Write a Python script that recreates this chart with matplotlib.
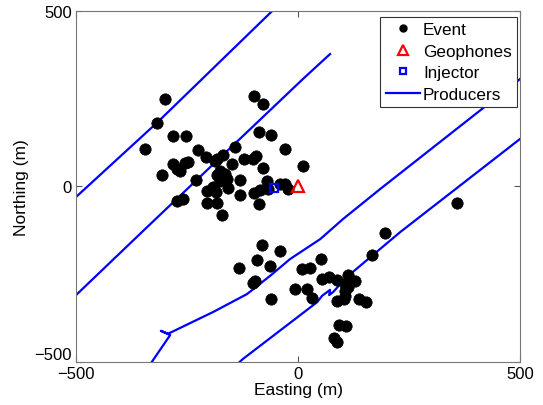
import matplotlib
matplotlib.use("Agg")
import matplotlib.pyplot as plt
from matplotlib.lines import Line2D

plt.rcParams['font.family'] = ['Liberation Sans', 'DejaVu Sans']

# Microseismic event locations (m)
event_easting = [
    -299.5, -316.9, -344.1, -281.5, -252.9, -226.4, -206.5, -188.1, -168.2, -141.9,
    -120.9, -94.6, -99.1, -80.0, -87.8, -60.8, -28.6, 10.1, -78.2, -282.7,
    -273.2, -265.8, -255.2, -247.1, -307.0, -230.4, -148.2, -175.7, -164.4, -183.1,
    -175.7, -160.6, -130.6, -157.0, -192.1, -206.1, -184.7, -205.6, -182.4, -172.3,
    -131.8, -100.2, -86.7, -89.0, -70.5, -40.5, -29.3, -22.5, -66.9, -273.2,
    -258.3, -101.4, -182.4,
    -80.4, -41.7, -93.0, -132.9, -63.1, -96.8, -100.7, -60.8, 51.8, 8.3,
    25.9, 53.4, 69.8, 88.5, 113.3, 128.4, 105.9, 113.3, -7.4, 19.6,
    32.2, 88.5, 104.3, 105.9, 137.4, 152.5, 93.0, 107.4, 81.8, 88.5,
    166.0, 195.9, 358.8, 105.9,
]
event_northing = [
    248.3, 182.1, 107.0, 142.7, 142.7, 105.0, 82.8, 72.8, 89.0, 112.7,
    79.3, 87.0, 258.3, 235.4, 155.5, 147.8, 107.9, 59.4, 53.7, 62.8,
    50.8, 42.8, 67.1, 69.1, 34.2, 18.5, 62.8, 43.4, 35.7, 33.7,
    16.6, 21.4, 19.4, -4.9, -2.3, -13.7, -17.1, -46.2, -45.7, -81.3,
    -23.7, -19.4, -10.0, -50.8, 15.7, 7.1, 5.7, -7.1, -7.1, -40.5,
    -35.7, 78.5, 77.1,
    -167.0, -184.9, -209.8, -232.6, -227.7, -268.8, -276.8, -321.1, -206.9, -235.4,
    -232.6, -264.0, -259.1, -266.0, -251.7, -268.8, -278.3, -287.7, -292.5, -292.5,
    -318.2, -327.6, -321.1, -311.6, -321.1, -328.8, -395.3, -397.3, -432.4, -442.9,
    -194.6, -132.7, -47.9, -297.4,
]

geophone_easting = [0]
geophone_northing = [0]
injector_easting = [-55]
injector_northing = [-4]

# Producer well traces
prod1_e = [-500, -316, -59]
prod1_n = [-30, 184, 500]
prod2_e = [-500, -340, 11, 72]
prod2_n = [-310, -116, 307, 378]
prod3_e = [-329, -288, -309, -293, -284, -191, -115, -63, -18, 50, 101, 185, 500]
prod3_n = [-500, -424, -412, -420, -415, -358, -307, -255, -207, -150, -93, -7, 307]
prod4_e = [-131, -124, 43, 54, 72, 70, 79, 110, 230, 500]
prod4_n = [-500, -492, -330, -312, -295, -310, -301, -258, -130, 136]

fig = plt.figure(figsize=(5.43, 4.06), dpi=100)
ax = fig.add_axes([0.140, 0.1067, 0.818, 0.863])

for e, n in [(prod1_e, prod1_n), (prod2_e, prod2_n), (prod3_e, prod3_n), (prod4_e, prod4_n)]:
    ax.plot(e, n, color='#0000ff', lw=1.6, zorder=2)

ax.plot(event_easting, event_northing, 'o', color='black', ms=8.2, mew=0.5, zorder=3)
ax.plot(geophone_easting, geophone_northing, '^', mfc='none', mec='red', mew=1.6, ms=8, zorder=4)
ax.plot(injector_easting, injector_northing, 's', mfc='none', mec='#0000ff', mew=1.6, ms=6, zorder=4)

ax.set_xlim(-500, 500)
ax.set_ylim(-500, 500)
ax.set_xticks([-500, 0, 500])
ax.set_yticks([-500, 0, 500])
ax.tick_params(direction='in', top=True, right=True, labelsize=12, length=4, color='#555555', pad=3)
for s in ax.spines.values():
    s.set_color('#777777')
ax.set_xlabel('Easting (m)', fontsize=12.5, labelpad=1)
ax.set_ylabel('Northing (m)', fontsize=12.5, labelpad=4)

fig.canvas.draw()
ax.get_yticklabels()[0].set_verticalalignment('bottom')

handles = [
    Line2D([], [], ls='none', marker='o', color='black', ms=5),
    Line2D([], [], ls='none', marker='^', mfc='none', mec='red', mew=1.6, ms=7),
    Line2D([], [], ls='none', marker='s', mfc='none', mec='#0000ff', mew=1.6, ms=5),
    Line2D([], [], color='#0000ff', lw=1.6),
]
leg = ax.legend(handles, ['Event', 'Geophones', 'Injector', 'Producers'], loc='upper right',
                bbox_to_anchor=(517 / 543, 1 - 18 / 406), bbox_transform=fig.transFigure,
                fontsize=12.3, fancybox=False, framealpha=1, edgecolor='#333333',
                borderaxespad=0.0, handlelength=2.0, handletextpad=0.2, labelspacing=0.38,
                borderpad=0.3)
leg.get_frame().set_linewidth(0.8)

fig.savefig('out.png', dpi=100)
